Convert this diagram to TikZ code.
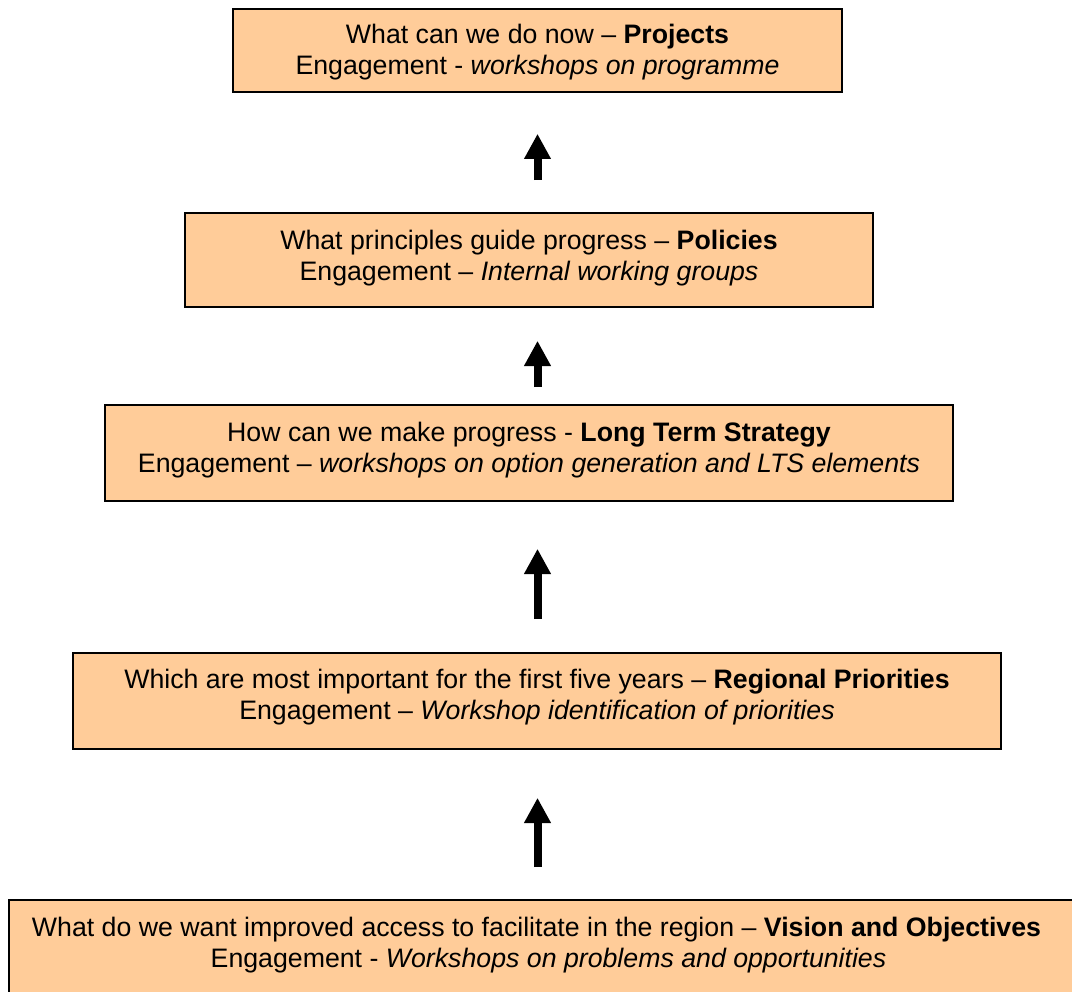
\documentclass[tikz,border=0pt]{standalone}
\usepackage{fontspec}
\setmainfont{Liberation Sans}
\usepackage{tikz}
\usetikzlibrary{arrows.meta,calc,positioning}
\definecolor{StageFill}{HTML}{FFCC99}
\definecolor{StageInk}{HTML}{000000}

\begin{document}
\begin{tikzpicture}[
      font=\fontsize{19}{21.9}\selectfont,
      stage/.style={draw=StageInk,line width=0.04cm,fill=StageFill,inner sep=0pt},
      stagetext/.style={align=center,inner sep=0pt,text=StageInk},
      uparrow/.style={line width=0.2cm,draw=StageInk,-{Triangle[length=0.63cm,width=0.63cm]}}
    ]
      \useasboundingbox (0,0) rectangle (26.8,-24.775);

      % the five stages, top to bottom
      \node[stage,minimum width=15.225cm,minimum height=2.075cm] (projects) at (13.4375,-1.2625) {};
      \node[stage,minimum width=17.2cm,minimum height=2.35cm] (policies) at (13.225,-6.5) {};
      \node[stage,minimum width=21.2cm,minimum height=2.4cm] (strategy) at (13.225,-11.325) {};
      \node[stage,minimum width=23.2cm,minimum height=2.4cm] (priorities) at (13.425,-17.525) {};
      \node[stage,minimum width=26.975cm,minimum height=2.4cm] (vision) at (13.7125,-23.7) {};

      \node[stagetext] (projectstext) at ([yshift=-1.1cm]projects.north)
        {What can we do now -- \textbf{Projects}\\ Engagement - \textit{workshops on programme}};
      \node[stagetext] (policiestext) at ([yshift=-1.14cm]policies.north)
        {What principles guide progress -- \textbf{Policies}\\ Engagement -- \textit{Internal working groups}};
      \node[stagetext] (strategytext) at ([yshift=-1.14cm]strategy.north)
        {How can we make progress - \textbf{Long Term Strategy}\\ Engagement -- \textit{workshops on option generation and LTS elements}};
      \node[stagetext] (prioritiestext) at ([yshift=-1.12cm]priorities.north)
        {Which are most important for the first five years -- \textbf{Regional Priorities}\\ Engagement -- \textit{Workshop identification of priorities}};
      \node[stagetext] (visiontext) at ([yshift=-1.15cm]vision.north)
        {What do we want improved access to facilitate in the region -- \textbf{Vision and Objectives}\hspace*{0.6cm}\\ Engagement - \textit{Workshops on problems and opportunities}};

      % arrows between the stages
      \draw[uparrow,shorten <=0.8cm,shorten >=1.025cm] (policies.north -| projects.south) -- (projects.south);
      \draw[uparrow,shorten <=0.425cm,shorten >=0.825cm] (strategy.north -| projects.south) -- (policies.south -| projects.south);
      \draw[uparrow,shorten <=0.825cm,shorten >=1.175cm] (priorities.north -| projects.south) -- (strategy.south -| projects.south);
      \draw[uparrow,shorten <=0.8cm,shorten >=1.2cm] (vision.north -| projects.south) -- (priorities.south -| projects.south);
    \end{tikzpicture}
\end{document}
